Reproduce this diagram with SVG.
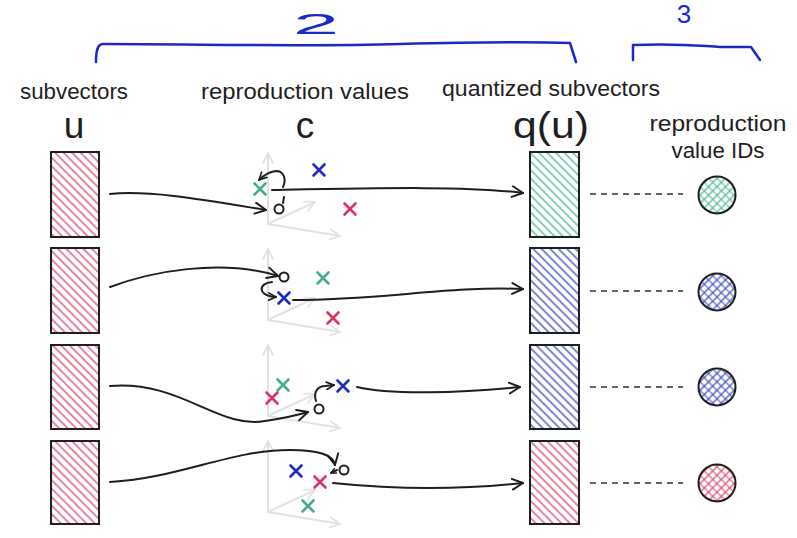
<svg xmlns="http://www.w3.org/2000/svg" width="797" height="538" viewBox="0 0 797 538">
<style>
.lbl{font-family:"Liberation Sans","Open Sans",sans-serif;font-size:22px;fill:#1e1e1e}
.big{font-family:"Liberation Sans","Open Sans",sans-serif;font-size:37px;fill:#1e1e1e}
.brace{fill:none;stroke:#1a2bc4;stroke-width:2.5;stroke-linecap:round;stroke-linejoin:round}
.bnum{font-family:"Liberation Sans",sans-serif;fill:#1a2bc4}
.box{stroke:#1e1e1e;stroke-width:2}
.axis{fill:none;stroke:#e2e2e2;stroke-width:2;stroke-linecap:round}
.x{fill:none;stroke-width:2.6;stroke-linecap:round}
.xr{stroke:#d9365e}.xg{stroke:#45ad8e}.xb{stroke:#1f2bb8}
.pt{fill:none;stroke:#1e1e1e;stroke-width:2}
.arr{fill:none;stroke:#1e1e1e;stroke-width:2;stroke-linecap:round}
.dash{fill:none;stroke:#333;stroke-width:1.6;stroke-dasharray:6 5}
.id{stroke:#1e1e1e;stroke-width:2}
</style>
<defs>
<pattern id="hr" width="6" height="6" patternUnits="userSpaceOnUse" patternTransform="rotate(-45)"><line x1="3" y1="0" x2="3" y2="6" stroke="#d9456a" stroke-width="1.3"/></pattern>
<pattern id="hg" width="6" height="6" patternUnits="userSpaceOnUse" patternTransform="rotate(-45)"><line x1="3" y1="0" x2="3" y2="6" stroke="#4bb395" stroke-width="1.3"/></pattern>
<pattern id="hb" width="6" height="6" patternUnits="userSpaceOnUse" patternTransform="rotate(-45)"><line x1="3" y1="0" x2="3" y2="6" stroke="#3a45b8" stroke-width="1.3"/></pattern>
<pattern id="cr" width="6" height="6" patternUnits="userSpaceOnUse" patternTransform="rotate(45)"><path d="M3,0V6M0,3H6" stroke="#d9456a" stroke-width="1.2"/></pattern>
<pattern id="cg" width="6" height="6" patternUnits="userSpaceOnUse" patternTransform="rotate(45)"><path d="M3,0V6M0,3H6" stroke="#4bb395" stroke-width="1.2"/></pattern>
<pattern id="cb" width="6" height="6" patternUnits="userSpaceOnUse" patternTransform="rotate(45)"><path d="M3,0V6M0,3H6" stroke="#3a45b8" stroke-width="1.2"/></pattern>
<marker id="ah" viewBox="0 0 12 12" refX="11" refY="6" markerWidth="13" markerHeight="13" markerUnits="userSpaceOnUse" orient="auto"><path d="M1,1 L11,6 L1,11" fill="none" stroke="#1e1e1e" stroke-width="1.8" stroke-linecap="round" stroke-linejoin="round"/></marker>
<marker id="ahs" viewBox="0 0 12 12" refX="11" refY="6" markerWidth="9" markerHeight="9" markerUnits="userSpaceOnUse" orient="auto"><path d="M1,1 L11,6 L1,11" fill="none" stroke="#1e1e1e" stroke-width="2.2" stroke-linecap="round" stroke-linejoin="round"/></marker>
<marker id="aht" viewBox="0 0 12 12" refX="11" refY="6" markerWidth="6" markerHeight="6" markerUnits="userSpaceOnUse" orient="auto"><path d="M1,1 L11,6 L1,11" fill="none" stroke="#1e1e1e" stroke-width="3" stroke-linecap="round" stroke-linejoin="round"/></marker>
<marker id="ahg" viewBox="0 0 12 12" refX="11" refY="6" markerWidth="12" markerHeight="12" markerUnits="userSpaceOnUse" orient="auto"><path d="M1,1 L11,6 L1,11" fill="none" stroke="#e2e2e2" stroke-width="1.8" stroke-linecap="round" stroke-linejoin="round"/></marker>
<g id="axes">
<path class="axis" d="M0,0 L0,-71" marker-end="url(#ahg)"/>
<path class="axis" d="M0,0 L72,12" marker-end="url(#ahg)"/>
<path class="axis" d="M0,0 L47,-22" marker-end="url(#ahg)"/>
</g>
<path id="xm" d="M-5.5,-5.5 L5.5,5.5 M5.5,-5.5 L-5.5,5.5"/>
</defs>
<rect width="797" height="538" fill="#ffffff"/>

<g id="braces">
<path class="brace" d="M96,62 C96,52 97,44 103,44 C200,44 300,47 400,44 C480,42 540,42 570,43 L576,62"/>
<text class="bnum" x="316" y="34" font-size="30" text-anchor="middle" textLength="46" lengthAdjust="spacingAndGlyphs">2</text>
<path class="brace" d="M633,60 L633,45 C680,43 700,46 720,47 L751,47 L760,60"/>
<text class="bnum" x="684" y="23" font-size="26" text-anchor="middle">3</text>
</g>

<g id="labels">
<text class="lbl" x="74" y="99" text-anchor="middle" textLength="108" lengthAdjust="spacingAndGlyphs">subvectors</text>
<text class="big" x="74" y="138" text-anchor="middle">u</text>
<text class="lbl" x="305" y="99" text-anchor="middle" textLength="208" lengthAdjust="spacingAndGlyphs">reproduction values</text>
<text class="big" x="305" y="138" text-anchor="middle">c</text>
<text class="lbl" x="551" y="96" text-anchor="middle" textLength="218" lengthAdjust="spacingAndGlyphs">quantized subvectors</text>
<text class="big" x="551" y="138" text-anchor="middle" textLength="76" lengthAdjust="spacingAndGlyphs">q(u)</text>
<text class="lbl" x="718" y="131" text-anchor="middle" textLength="137" lengthAdjust="spacingAndGlyphs">reproduction</text>
<text class="lbl" x="718" y="158" text-anchor="middle" textLength="93" lengthAdjust="spacingAndGlyphs">value IDs</text>
</g>

<g id="subvector-1"><rect class="box" x="51" y="152" width="48" height="85" fill="url(#hr)"/></g>
<g id="subvector-2"><rect class="box" x="51" y="248" width="48" height="85" fill="url(#hr)"/></g>
<g id="subvector-3"><rect class="box" x="51" y="345" width="48" height="84" fill="url(#hr)"/></g>
<g id="subvector-4"><rect class="box" x="51" y="441" width="48" height="83" fill="url(#hr)"/></g>

<g id="space-1">
<use href="#axes" transform="translate(268,224)"/>
<use href="#xm" class="x xg" transform="translate(260,189)"/>
<use href="#xm" class="x xb" transform="translate(319,170)"/>
<use href="#xm" class="x xr" transform="translate(350,209)"/>
<circle class="pt" cx="279" cy="209" r="4.5"/>
</g>
<g id="space-2">
<use href="#axes" transform="translate(268,320)"/>
<use href="#xm" class="x xb" transform="translate(284,298)"/>
<use href="#xm" class="x xg" transform="translate(323,278)"/>
<use href="#xm" class="x xr" transform="translate(333,318)"/>
<circle class="pt" cx="284" cy="277" r="4.5"/>
</g>
<g id="space-3">
<use href="#axes" transform="translate(268,416)"/>
<use href="#xm" class="x xr" transform="translate(272,398)"/>
<use href="#xm" class="x xg" transform="translate(283,385)"/>
<use href="#xm" class="x xb" transform="translate(343,386)"/>
<circle class="pt" cx="319" cy="409" r="4.5"/>
</g>
<g id="space-4">
<use href="#axes" transform="translate(268,512)"/>
<use href="#xm" class="x xb" transform="translate(296,471)"/>
<use href="#xm" class="x xr" transform="translate(320,482)"/>
<use href="#xm" class="x xg" transform="translate(308,506)"/>
<circle class="pt" cx="344" cy="470" r="4.5"/>
</g>

<g id="quantized-1"><rect class="box" x="530" y="152" width="49" height="85" fill="url(#hg)"/></g>
<g id="quantized-2"><rect class="box" x="530" y="248" width="49" height="85" fill="url(#hb)"/></g>
<g id="quantized-3"><rect class="box" x="530" y="345" width="49" height="84" fill="url(#hb)"/></g>
<g id="quantized-4"><rect class="box" x="530" y="441" width="49" height="83" fill="url(#hr)"/></g>

<g id="id-1"><circle class="id" cx="717" cy="195" r="18.5" fill="url(#cg)"/></g>
<g id="id-2"><circle class="id" cx="717" cy="292" r="18.5" fill="url(#cb)"/></g>
<g id="id-3"><circle class="id" cx="717" cy="387" r="18.5" fill="url(#cb)"/></g>
<g id="id-4"><circle class="id" cx="717" cy="483" r="18.5" fill="url(#cr)"/></g>

<g id="connectors">
<path class="arr" d="M110,194 C150,190 205,200 266,210" marker-end="url(#ah)"/>
<path class="arr" d="M283,187 C287,178 283,171 276,171 C269,172 264,175 259,180" marker-end="url(#ahs)"/>
<path class="arr" d="M284,197 L283,203"/>
<path class="arr" d="M272,190 C380,188 470,186 523,193" marker-end="url(#ah)"/>

<path class="arr" d="M110,287 C150,272 220,258 278,276" marker-end="url(#ah)"/>
<path class="arr" d="M272,282 C258,283 257,296 276,297" marker-end="url(#ahs)"/>
<path class="arr" d="M293,300 C380,300 450,286 523,289" marker-end="url(#ah)"/>

<path class="arr" d="M110,386 C180,380 220,430 265,421 C285,418 298,415 308,412" marker-end="url(#ah)"/>
<path class="arr" d="M316,401 C313,392 318,386 325,386 L334,385" marker-end="url(#ahs)"/>
<path class="arr" d="M357,387 C390,395 460,393 520,387" marker-end="url(#ah)"/>

<path class="arr" d="M110,482 C180,478 230,450 290,450 C320,450 333,455 335,465" marker-end="url(#ah)"/>
<path class="arr" d="M337,470 L331,473" marker-end="url(#aht)"/>
<path class="arr" d="M333,483 C400,490 460,490 523,483" marker-end="url(#ah)"/>

<path class="dash" d="M590,194 L683,194"/>
<path class="dash" d="M590,291 L683,291"/>
<path class="dash" d="M590,387 L683,387"/>
<path class="dash" d="M590,483 L683,483"/>
</g>
</svg>
